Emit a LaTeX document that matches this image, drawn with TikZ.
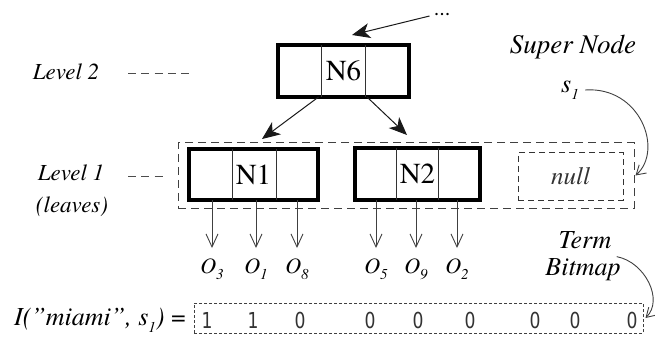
\documentclass[tikz,border=0pt]{standalone}
\usepackage{fontspec}
\setmainfont{texgyretermes}[Extension=.otf, UprightFont=*-regular, ItalicFont=*-italic, BoldFont=*-bold, BoldItalicFont=*-bolditalic]
\newfontfamily\digitfont[FakeStretch=0.78]{DejaVu Sans}
\usetikzlibrary{arrows.meta}
\newcommand{\subi}[1]{\raisebox{-0.28em}{\fontsize{15}{15}\selectfont\itshape #1}}
\begin{document}
\begin{tikzpicture}[x=1pt,y=-1pt,
  lbl/.style={inner sep=0pt, font=\fontsize{#1}{#1}\selectfont\itshape},
  nlbl/.style={font=\fontsize{29}{29}\selectfont},
  bignode/.style={draw, line width=4pt, inner sep=0pt, outer sep=0pt, nlbl},
  divider/.style={line width=0.9pt, black!80},
  bigarrow/.style={black!90, line width=1pt, -{Stealth[length=18pt,width=15pt,inset=5pt]}},
  ptrarrow/.style={black!75, line width=0.9pt, -{Straight Barb[length=13pt,width=12pt]}},
  curvearrow/.style={black!75, line width=0.9pt, -{Straight Barb[length=9pt,width=11pt]}},
  olbl/.style={anchor=north, inner xsep=0pt, inner ysep=10pt, text height=15pt, text depth=5pt, font=\fontsize{22}{22}\selectfont\itshape},
  lvdash/.style={black!70, line width=0.9pt, dash pattern=on 8pt off 5.25pt},
  digit/.style={inner sep=0pt, font=\fontsize{22}{22}\selectfont\digitfont, black!80}
]
\useasboundingbox (0,0) rectangle (655,339);

% level labels
\node[lbl=23] (lv2) at (66,72) {Level 2};
\draw[lvdash] (128,73) -- (189,73);
\node[lbl=23] (lv1) at (71,173) {Level 1};
\draw[lvdash] (128,176) -- (163,176);
\node[lbl=23] (leaves) at (72,207) {(leaves)};

% super node region
\node[draw, black!75, line width=1pt, dash pattern=on 8pt off 5pt, minimum width=456pt, minimum height=65pt, inner sep=0pt] (super) at (406,175.5) {};
\node[draw, black!80, line width=1pt, dash pattern=on 6pt off 4pt, minimum width=105pt, minimum height=47pt, lbl=25] (null) at (570.5,176.5) {null};

% tree nodes
\node[bignode, minimum width=131pt, minimum height=52pt] (n6) at (343.5,71) {N6};
\draw[divider] ([xshift=-22pt]n6.north) -- ([xshift=-22pt]n6.south);
\draw[divider] ([xshift=22pt]n6.north) -- ([xshift=22pt]n6.south);

\node[bignode, minimum width=129pt, minimum height=51pt] (n1) at (253.5,174.5) {N1};
\draw[divider] ([xshift=-21.5pt]n1.north) -- ([xshift=-21.5pt]n1.south);
\draw[divider] ([xshift=22.5pt]n1.north) -- ([xshift=22.5pt]n1.south);

\node[bignode, minimum width=125pt, minimum height=52pt] (n2) at (417.5,174) {N2};
\draw[divider] ([xshift=-21.5pt]n2.north) -- ([xshift=-21.5pt]n2.south);
\draw[divider] ([xshift=20.5pt]n2.north) -- ([xshift=20.5pt]n2.south);

% top arrows
\node[inner sep=1pt, font=\fontsize{22}{22}\selectfont] (dots) at (442,15) {...};
\draw[bigarrow] ([xshift=-3pt,yshift=-1pt]dots.west) -- ([xshift=8.5pt,yshift=10pt]n6.north);
\draw[bigarrow] ([xshift=-25pt]n6.south) -- ([xshift=8.5pt,yshift=10pt]n1.north);
\draw[bigarrow] ([xshift=23.5pt]n6.south) -- ([xshift=-10.5pt,yshift=13pt]n2.north);

% object labels
\node[olbl] (o3) at (212,248) {O\subi{3}};
\node[olbl] (o1) at (256,248) {O\subi{1}};
\node[olbl] (o8) at (297,248) {O\subi{8}};
\node[olbl] (o5) at (376,248) {O\subi{5}};
\node[olbl] (o9) at (416,248) {O\subi{9}};
\node[olbl] (o2) at (457,248) {O\subi{2}};
\draw[ptrarrow] (n1.south -| o3.north) -- (o3.north);
\draw[ptrarrow] (n1.south -| o1.north) -- (o1.north);
\draw[ptrarrow] (n1.south -| o8.north) -- (o8.north);
\draw[ptrarrow] (n2.south -| o5.north) -- (o5.north);
\draw[ptrarrow] (n2.south -| o9.north) -- (o9.north);
\draw[ptrarrow] (n2.south -| o2.north) -- (o2.north);

% super node label
\node[lbl=27] (sn) at (573,47) {Super Node};
\node[lbl=26] (s1) at (570,90) {s\subi{1}};
\draw[curvearrow] ([xshift=6pt]s1.east) .. controls (640,86) and (664,150) .. ([xshift=1pt]super.east);

% term bitmap
\node[lbl=26] (term) at (585,240) {Term};
\node[lbl=26] (bitmap) at (583,270) {Bitmap};
\node[draw, black!75, line width=1pt, dash pattern=on 3pt off 2pt, minimum width=449pt, minimum height=30pt, inner sep=0pt] (bits) at (418.5,318) {};
\draw[curvearrow] ([xshift=-4pt,yshift=2pt]bitmap.north east) .. controls (645,262) and (664,300) .. ([xshift=2pt]bits.east);

\node[lbl=26, anchor=east] (ilbl) at (186,320) {I(\symbol{34}miami\symbol{34}, s\subi{1}) {\upshape =}};
\node[digit] (d1) at (207,320) {1};
\node[digit] (d2) at (253,320) {1};
\node[digit] (d3) at (300,320) {0};
\node[digit] (d4) at (370,320) {0};
\node[digit] (d5) at (418,320) {0};
\node[digit] (d6) at (470,320) {0};
\node[digit] (d7) at (535,320) {0};
\node[digit] (d8) at (575,320) {0};
\node[digit] (d9) at (632,320) {0};
\end{tikzpicture}
\end{document}
